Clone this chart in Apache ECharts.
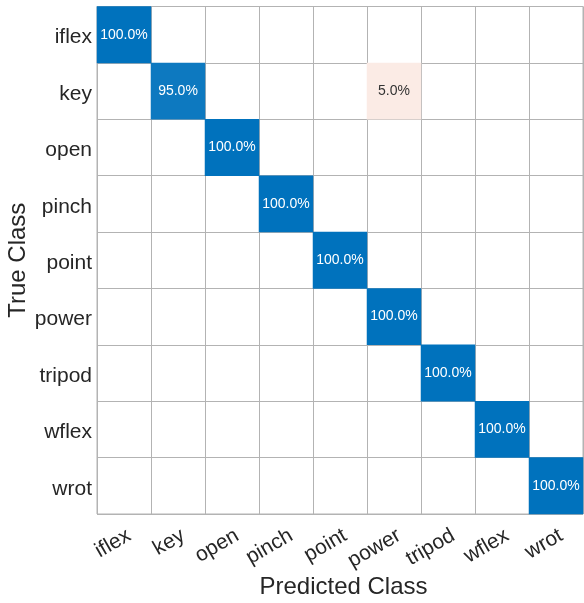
<!DOCTYPE html>
<html>
<head>
<meta charset="utf-8">
<script src="https://cdn.jsdelivr.net/npm/echarts@6/dist/echarts.min.js"></script>
<style>
  html, body { margin: 0; padding: 0; background: #fff; }
  #chart { width: 584px; height: 603px; }
</style>
</head>
<body>
<div id="chart"></div>
<script>
// Confusion matrix: row-normalised percentages (true class vs predicted class)
const classes = ['iflex', 'key', 'open', 'pinch', 'point', 'power', 'tripod', 'wflex', 'wrot'];

// Non-zero cells: [predicted index, true index, percent]
const cells = [
  [0, 0, 100.0],
  [1, 1, 95.0],
  [5, 1, 5.0],
  [2, 2, 100.0],
  [3, 3, 100.0],
  [4, 4, 100.0],
  [5, 5, 100.0],
  [6, 6, 100.0],
  [7, 7, 100.0],
  [8, 8, 100.0]
];

const diagRGB = [0, 114, 189];
function mix(rgb, t) {
  const c = rgb.map(v => Math.round(255 + (v - 255) * t));
  return 'rgb(' + c.join(',') + ')';
}

const data = cells.map(([x, y, v]) => {
  const onDiag = x === y;
  return {
    value: [x, y, v],
    itemStyle: { color: onDiag ? mix(diagRGB, v / 100) : '#fbebe5' },
    label: { color: onDiag ? '#ffffff' : '#333333' }
  };
});

const font = 'Liberation Sans, Arial, Helvetica, sans-serif';
const chart = echarts.init(document.getElementById('chart'));
chart.setOption({
  animation: false,
  grid: {
    left: 97, right: 1, top: 6.5, bottom: 89,
    containLabel: false,
    outerBoundsMode: 'none',
    show: true, borderColor: '#b3b3b3', borderWidth: 1
  },
  xAxis: {
    type: 'category',
    data: classes,
    name: 'Predicted Class',
    nameLocation: 'middle',
    nameGap: 61,
    nameMoveOverlap: false,
    nameTextStyle: { fontSize: 24, color: '#262626', fontFamily: font, padding: [0, 0, 0, 7] },
    axisLine: { show: false },
    axisTick: { show: false },
    splitLine: { show: true, interval: 0, lineStyle: { color: '#b3b3b3', width: 1 } },
    axisLabel: {
      interval: 0, rotate: 30, margin: 11,
      verticalAlign: 'top',
      fontSize: 21, color: '#262626', fontFamily: font
    }
  },
  yAxis: {
    type: 'category',
    data: classes,
    inverse: true,
    name: 'True Class',
    nameLocation: 'middle',
    nameGap: 67,
    nameMoveOverlap: false,
    nameTextStyle: { fontSize: 24, color: '#262626', fontFamily: font },
    axisLine: { show: false },
    axisTick: { show: false },
    splitLine: { show: true, interval: 0, lineStyle: { color: '#b3b3b3', width: 1 } },
    axisLabel: {
      interval: 0, margin: 5,
      formatter: v => '{t|' + v + '}',
      rich: {
        t: { padding: [6, 0, 0, 0], fontSize: 21, color: '#262626', fontFamily: font }
      }
    }
  },
  series: [{
    type: 'heatmap',
    data: data,
    label: {
      show: true,
      fontSize: 14,
      fontFamily: font,
      formatter: p => p.value[2].toFixed(1) + '%'
    },
    itemStyle: { borderWidth: 0 },
    emphasis: { disabled: true }
  }]
});
</script>
</body>
</html>
